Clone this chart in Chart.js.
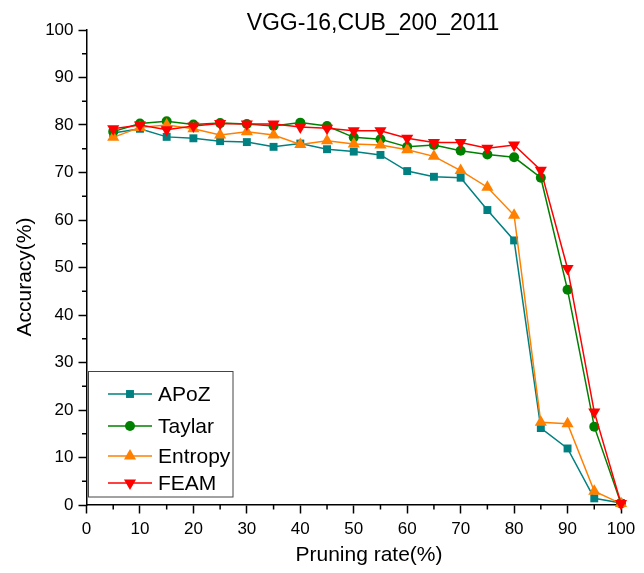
<!DOCTYPE html>
<html><head><meta charset="utf-8">
<script src="https://cdn.jsdelivr.net/npm/chart.js@4.4.1/dist/chart.umd.min.js"></script>
<style>html,body{margin:0;padding:0;background:#fff}#wrap{width:644px;height:573px}</style>
</head><body><div id="wrap"><canvas id="c" width="644" height="573"></canvas></div>
<script>
const chartTitle = 'VGG-16,CUB_200_2011';
const xTitle = 'Pruning rate(%)';
const yTitle = 'Accuracy(%)';
const pruningRates = [5,10,15,20,25,30,35,40,45,50,55,60,65,70,75,80,85,90,95,100];
const apozAcc    = [78.3,79.2,77.5,77.2,76.6,76.4,75.4,76.1,74.9,74.4,73.7,70.3,69.1,68.9,62.1,55.7,16.2,11.9,1.4,0.4];
const taylarAcc  = [78.6,80.3,80.8,80.1,80.4,80.2,79.8,80.5,79.8,77.4,77.0,75.4,75.8,74.6,73.8,73.2,68.9,45.3,16.5,0.3];
const entropyAcc = [77.4,79.5,80.0,79.2,77.9,78.6,77.9,75.9,76.7,76.0,75.8,74.8,73.4,70.4,66.9,61.0,17.4,17.1,2.9,0.3];
const feamAcc    = [79.2,80.0,79.0,79.8,80.3,80.2,80.2,79.6,79.3,78.8,78.8,77.2,76.3,76.3,75.1,75.8,70.5,49.8,19.6,0.3];
const seriesNames = ['APoZ','Taylar','Entropy','FEAM'];
const xTicks = [0,10,20,30,40,50,60,70,80,90,100];
const yTicks = [0,10,20,30,40,50,60,70,80,90,100];

const FONT = "'Liberation Sans', Arial, sans-serif";
const toXY = arr => arr.map((v,i)=>({x: pruningRates[i], y: v}));

const styles = [
  {color:'#008080', style:'rect', radius:5.6, rot:0, order:3},
  {color:'#008000', style:'circle', radius:5, rot:0, order:2},
  {color:'#FF8000', style:'triangle', radius:7, rot:0, order:1},
  {color:'#FF0000', style:'triangle', radius:7, rot:180, order:0}
];
const allData = [apozAcc, taylarAcc, entropyAcc, feamAcc];

const datasets = allData.map((d,i)=>({
  label: seriesNames[i],
  data: toXY(d),
  borderColor: styles[i].color,
  backgroundColor: styles[i].color,
  borderWidth: 1.5,
  pointStyle: styles[i].style,
  pointRadius: styles[i].radius,
  pointRotation: styles[i].rot,
  pointBorderWidth: 0,
  pointHoverRadius: styles[i].radius,
  tension: 0,
  clip: false,
  order: styles[i].order
}));

const decor = {
  id: 'decor',
  afterDraw(chart) {
    const ctx = chart.ctx;
    const xs = chart.scales.x, ys = chart.scales.y;
    ctx.save();
    // minor ticks
    ctx.strokeStyle = '#000'; ctx.lineWidth = 1.5;
    for (let v = 5; v < 100; v += 10) {
      const px = xs.getPixelForValue(v);
      ctx.beginPath(); ctx.moveTo(px, ys.bottom); ctx.lineTo(px, ys.bottom + 4.5); ctx.stroke();
      const py = ys.getPixelForValue(v);
      ctx.beginPath(); ctx.moveTo(xs.left, py); ctx.lineTo(xs.left - 4.5, py); ctx.stroke();
    }
    // title
    ctx.fillStyle = '#000';
    ctx.font = '23px ' + FONT;
    ctx.textAlign = 'center'; ctx.textBaseline = 'middle';
    ctx.fillText(chartTitle, 373, 24);
    // axis titles
    ctx.font = '21px ' + FONT;
    ctx.fillText(xTitle, 369, 555);
    ctx.save();
    ctx.translate(25, 277); ctx.rotate(-Math.PI/2);
    ctx.fillText(yTitle, 0, 0);
    ctx.restore();
    // legend
    ctx.fillStyle = '#fff';
    ctx.fillRect(88.5, 371.5, 144.5, 125.5);
    ctx.strokeStyle = '#444'; ctx.lineWidth = 1;
    ctx.strokeRect(88.5, 371.5, 144.5, 125.5);
    const rows = [394, 426, 456, 483];
    seriesNames.forEach((name, i) => {
      const y = rows[i], s = styles[i];
      ctx.strokeStyle = s.color; ctx.lineWidth = 1.5;
      ctx.beginPath(); ctx.moveTo(108, y); ctx.lineTo(152, y); ctx.stroke();
      ctx.fillStyle = s.color;
      Chart.helpers.drawPoint(ctx, {pointStyle: s.style, radius: s.radius, rotation: s.rot, borderWidth: 0}, 130, y);
      ctx.fillStyle = '#000';
      ctx.font = '21px ' + FONT;
      ctx.textAlign = 'left'; ctx.textBaseline = 'middle';
      ctx.fillText(name, 158, y + 1);
    });
    ctx.restore();
  }
};

new Chart(document.getElementById('c'), {
  type: 'line',
  data: { datasets },
  options: {
    responsive: false,
    devicePixelRatio: 1,
    animation: false,
    layout: { padding: { top: 30, right: 23, left: 0, bottom: 0 } },
    plugins: { legend: { display: false }, title: { display: false }, tooltip: { enabled: false } },
    scales: {
      x: {
        type: 'linear', min: 0, max: 100,
        afterFit: s => { s.height = 68; },
        afterBuildTicks: s => { s.ticks = xTicks.map(v => ({value: v})); },
        ticks: { font: { family: FONT, size: 17 }, color: '#000', padding: 6, maxRotation: 0 },
        grid: { drawOnChartArea: false, drawTicks: true, tickLength: 8.5, tickColor: '#000', tickWidth: 1.5 },
        border: { display: true, color: '#000', width: 1.5 }
      },
      y: {
        type: 'linear', min: 0, max: 100,
        afterFit: s => { s.width = 86.5; },
        afterBuildTicks: s => { s.ticks = yTicks.map(v => ({value: v})); },
        ticks: { font: { family: FONT, size: 17 }, color: '#000', padding: 5 },
        grid: { drawOnChartArea: false, drawTicks: true, tickLength: 8, tickColor: '#000', tickWidth: 1.5 },
        border: { display: true, color: '#000', width: 1.5 }
      }
    }
  },
  plugins: [decor]
});
</script></body></html>
